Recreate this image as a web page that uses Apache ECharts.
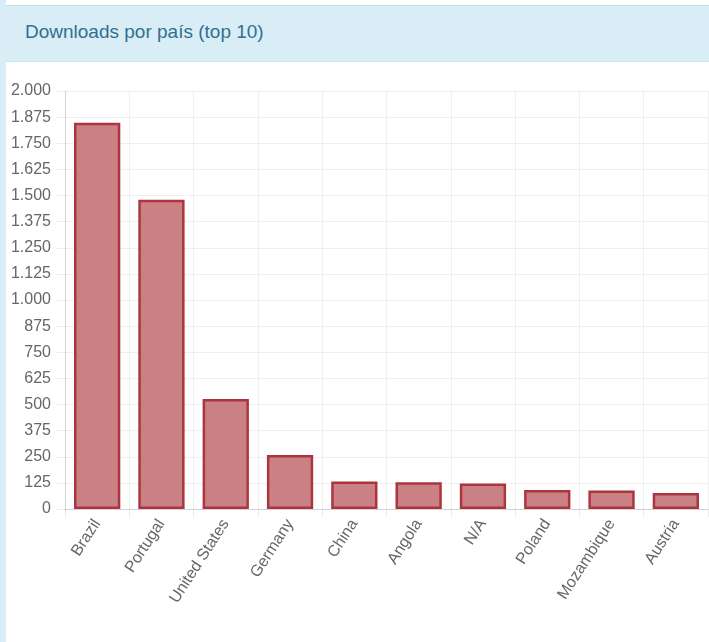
<!DOCTYPE html>
<html>
<head>
<meta charset="utf-8">
<script src="https://cdn.jsdelivr.net/npm/echarts@6/dist/echarts.min.js"></script>
<style>
html,body{margin:0;padding:0;width:709px;height:642px;overflow:hidden;background:#fff;font-family:"Liberation Sans",Arial,Helvetica,sans-serif;}
#leftbar{position:absolute;left:0;top:0;width:6px;height:642px;background:#d9edf7;}
#head{position:absolute;left:6px;top:5px;width:703px;height:55px;background:#d9edf7;border-top:1px solid #bce8f1;border-bottom:1px solid #bce8f1;}
#head span{position:absolute;left:19px;top:15px;font-size:19px;color:#31708f;}
#chart{position:absolute;left:0;top:0;width:709px;height:642px;}
</style>
</head>
<body>
<div id="leftbar"></div>
<div id="head"><span>Downloads por país (top 10)</span></div>
<div id="chart"></div>
<script>
const categories = ["Brazil","Portugal","United States","Germany","China","Angola","N/A","Poland","Mozambique","Austria"];
const downloads = [1848, 1480, 526, 258, 131, 128, 122, 91, 88, 76];
const yMin = 0, yMax = 2000, yStep = 125;

const chart = echarts.init(document.getElementById('chart'), null, {renderer:'canvas'});
const fmt = v => String(v).replace(/\B(?=(\d{3})+(?!\d))/g, '.');
chart.setOption({
  animation:false,
  grid:{left:65,right:1,top:91,bottom:133,containLabel:false},
  xAxis:{
    type:'category',
    data:categories,
    boundaryGap:true,
    axisLine:{show:true,lineStyle:{color:'rgba(0,0,0,0.12)',width:1}},
    axisTick:{show:true,length:8,alignWithLabel:false,lineStyle:{color:'rgba(0,0,0,0.08)'}},
    splitLine:{show:true,lineStyle:{color:'rgba(0,0,0,0.06)'}},
    axisLabel:{rotate:57,margin:12,color:'#666',fontSize:16,fontFamily:'Liberation Sans, Arial, sans-serif',interval:0}
  },
  yAxis:{
    type:'value',
    min:yMin,max:yMax,interval:yStep,
    axisLine:{show:true,lineStyle:{color:'rgba(0,0,0,0.12)',width:1}},
    axisTick:{show:true,length:8,lineStyle:{color:'rgba(0,0,0,0.08)'}},
    splitLine:{show:true,lineStyle:{color:'rgba(0,0,0,0.06)'}},
    axisLabel:{margin:14,color:'#666',fontSize:16,fontFamily:'Liberation Sans, Arial, sans-serif',formatter:fmt}
  },
  series:[{
    type:'bar',
    data:downloads,
    barWidth:'72%',
    itemStyle:{color:'#c98184',borderColor:'#ad3540',borderWidth:2.5}
  }]
});
</script>
</body>
</html>
